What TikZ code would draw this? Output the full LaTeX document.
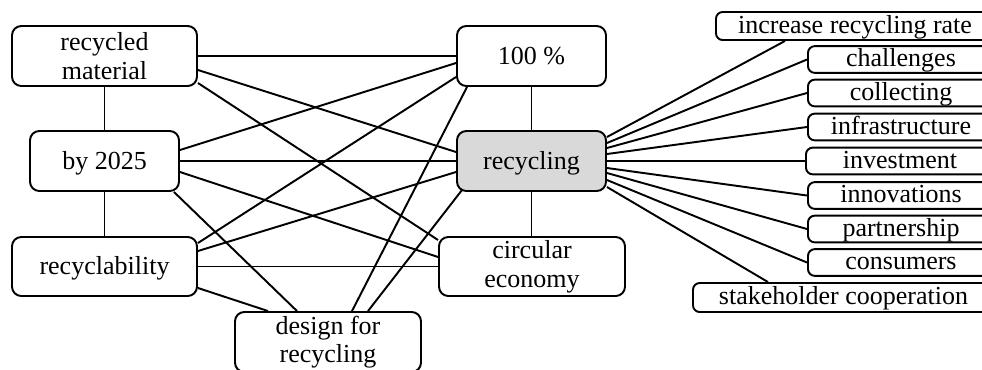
\documentclass[tikz,border=0pt]{standalone}
\usepackage{fontspec}
\setmainfont{Liberation Serif}
\usetikzlibrary{calc}
\begin{document}
\begin{tikzpicture}[x=0.75pt,y=-0.75pt,
  box/.style={draw, line width=1.45pt, rounded corners=7pt, inner sep=0pt,
    align=center, font=\fontsize{19.5}{21.5}\selectfont},
  single/.style={box, text height=15.8pt, text depth=3.5pt},
  tag/.style={draw, line width=1.45pt, rounded corners=5pt, inner sep=0pt,
    minimum height=20pt, font=\fontsize{19.5}{21}\selectfont,
    text height=14.8pt, text depth=3.6pt},
  link/.style={line width=1.45pt}]
\useasboundingbox (0,0) rectangle (982,369);
\clip (0,0) rectangle (982,369);
\fill[white] (0,0) rectangle (982,369);
% main nodes
\node[box, minimum width=138.75pt, minimum height=45pt] (rm) at (104.5,56) {recycled\\material};
\node[single, minimum width=111.75pt, minimum height=45pt] (bd) at (104.5,161) {by 2025};
\node[single, minimum width=138.75pt, minimum height=44.25pt] (ry) at (104.5,266.5) {recyclability};
\node[box, minimum width=139.5pt, minimum height=45pt] (dfr) at (328,342) {design for\\recycling};
\node[single, minimum width=111.75pt, minimum height=45pt] (hp) at (531.5,56) {100 \%};
\node[single, fill=black!15, minimum width=111.75pt, minimum height=45pt] (rec) at (531.5,161) {recycling};
\node[box, minimum width=139.5pt, minimum height=44.25pt] (ce) at (532,266.5) {circular\\economy};
% right nodes
\node[tag, minimum width=208.5pt, minimum height=21pt] (irr) at (855,26) {increase recycling rate};
\node[tag, minimum width=139.5pt] (ch) at (901,59.5) {challenges};
\node[tag, minimum width=139.5pt] (co) at (901,93) {collecting};
\node[tag, minimum width=139.5pt] (inf) at (901,127) {infrastructure};
\node[tag, minimum width=141pt] (inv) at (900,161) {investment};
\node[tag, minimum width=139.5pt] (inn) at (901,195.5) {innovations};
\node[tag, minimum width=139.5pt] (pa) at (901,229) {partnership};
\node[tag, minimum width=139.5pt] (cons) at (901,262.5) {consumers};
\node[tag, minimum width=225.75pt, minimum height=21.75pt] (sh) at (843.5,297.5) {stakeholder cooperation};
% vertical links
\draw[link] (rm.south) -- (bd.north);
\draw[link] (bd.south) -- (ry.north);
\draw[link] (hp.south) -- (rec.north);
\draw[link] (rec.south) -- (rec.south |- ce.north);
% cross links
\draw[link] (rm.east) -- (hp.west);
\draw[link] ($(rm.east)+(0,14)$) -- ($(rec.west)+(0,-9)$);
\draw[link] ($(rm.east)+(0,27)$) -- ($(ce.west)+(0,-26.5)$);
\draw[link] ($(bd.east)+(0,-11)$) -- ($(hp.west)+(0,7)$);
\draw[link] (bd.east) -- (rec.west);
\draw[link] ($(bd.east)+(0,11)$) -- ($(ce.west)+(0,-9.5)$);
\draw[link] ($(bd.south east)+(-6,0)$) -- ($(dfr.north)+(-31,0)$);
\draw[link] ($(ry.east)+(0,-23.5)$) -- ($(hp.west)+(0,21)$);
\draw[link] ($(ry.east)+(0,-15.5)$) -- ($(rec.west)+(0,11)$);
\draw[link] (ry.east) -- (ce.west);
\draw[link] ($(ry.east)+(0,21.5)$) -- ($(dfr.north)+(-60,0)$);
\draw[link] ($(dfr.north)+(24,0)$) -- ($(hp.south west)+(11,0)$);
\draw[link] ($(dfr.north)+(40,0)$) -- ($(rec.south west)+(6,-2)$);
% right fan
\draw[link] ($(rec.east)+(0,-24)$) -- ($(irr.south)+(-70,0)$);
\draw[link] ($(rec.east)+(0,-18)$) -- (ch.west);
\draw[link] ($(rec.east)+(0,-13)$) -- (co.west);
\draw[link] ($(rec.east)+(0,-7)$) -- (inf.west);
\draw[link] (rec.east) -- (inv.west);
\draw[link] ($(rec.east)+(0,7)$) -- (inn.west);
\draw[link] ($(rec.east)+(0,12)$) -- (pa.west);
\draw[link] ($(rec.east)+(0,19)$) -- (cons.west);
\draw[link] ($(rec.east)+(0,26)$) -- ($(sh.north)+(-75.5,0)$);
\end{tikzpicture}
\end{document}
